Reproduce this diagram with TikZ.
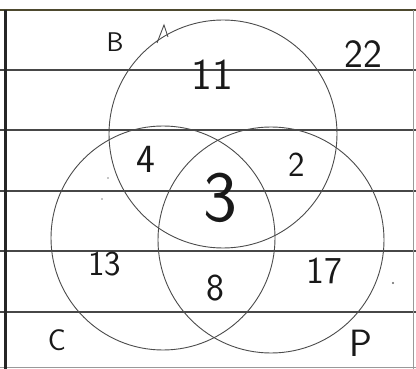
\documentclass[tikz,border=0pt]{standalone}
\usepackage{fontspec}
\usetikzlibrary{calc}
\tikzset{
  ruleline/.style   = {line width=1.3pt, black!72},
  topline/.style    = {line width=2.2pt, black!60!olive},
  marginline/.style = {line width=3pt, black!85},
  edgeline/.style   = {line width=0.8pt, black!40},
  setcircle/.style  = {line width=0.9pt, black!70},
  handtext/.style   = {text=black!90, inner sep=0pt, font=\sffamily},
}
\newcommand{\handsz}[1]{\fontsize{#1}{#1}\selectfont}

\begin{document}
\begin{tikzpicture}[x=1pt, y=-1pt]

    \useasboundingbox (0,0) rectangle (416,369);
    \fill[white] (0,0) rectangle (416,369);

    % --- ruled paper -----------------------------------------------------
    \foreach \yy in {70,130,191,251,312}
      \draw[ruleline] (0,\yy) -- (416,\yy);
    \draw[topline] (0,10) -- (416,10);
    \draw[edgeline] (0,367) -- (416,367);
    \draw[edgeline] (413,10) -- (413,369);
    \draw[marginline] (5.5,10) -- (5.5,369);

    % --- the three sets ----------------------------------------------------
    \coordinate (cB) at (223,134);
    \coordinate (cC) at (163,238);
    \coordinate (cP) at (271,240);

    \draw[setcircle] (cB) circle[radius=114pt];
    \draw[setcircle] (cC) circle[radius=112pt];
    \draw[setcircle] (cP) circle[radius=113pt];

    % little tick on the top of B
    \draw[setcircle] (157,43) -- (164,25) -- (168,37);

    % stray pencil dots
    \fill[black!60] (393,283) circle (1.2pt);
    \fill[black!45] (108,178) circle (0.9pt);
    \fill[black!45] (102,199) circle (0.9pt);

    % --- set names ---------------------------------------------------------
    \node[handtext, font=\sffamily\handsz{27}] (nameB) at (115,42) {B};
    \node[handtext, font=\sffamily\handsz{30}] (nameC) at (57,340) {C};
    \node[handtext, font=\sffamily\handsz{38}] (nameP) at (361,343) {P};

    % --- region counts -----------------------------------------------------
    \node[handtext, font=\sffamily\handsz{40}] (n22) at (363,54)  {22};
    \node[handtext, font=\sffamily\handsz{44}] (n11) at (212,75)  {11};
    \node[handtext, font=\sffamily\handsz{40}] (n4)  at (146,159) {4};
    \node[handtext, font=\sffamily\handsz{72}] (n3)  at (220,198) {3};
    \node[handtext, font=\sffamily\handsz{35}] (n2)  at (297,165) {2};
    \node[handtext, font=\sffamily\handsz{35}] (n13) at (105,264) {13};
    \node[handtext, font=\sffamily\handsz{38}] (n8)  at (215,288) {8};
    \node[handtext, font=\sffamily\handsz{38}] (n17) at (324,271) {17};

\end{tikzpicture}
\end{document}
